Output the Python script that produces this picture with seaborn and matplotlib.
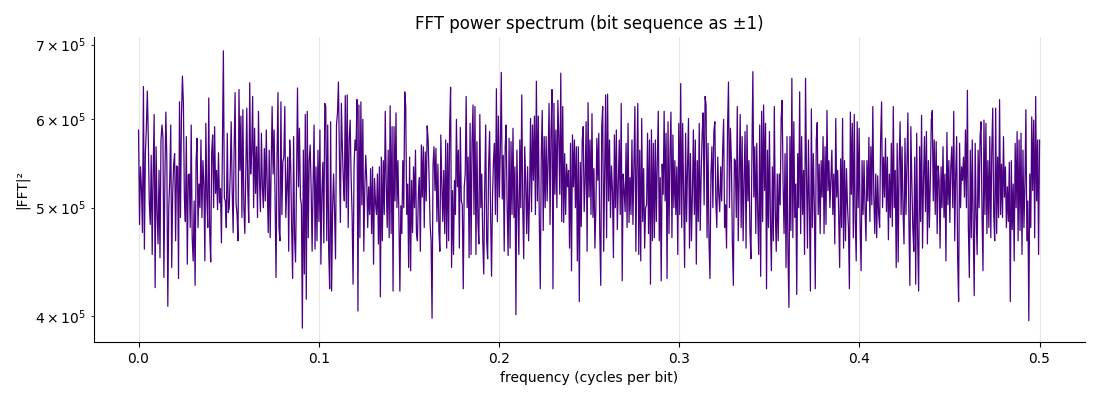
import numpy as np
import pandas as pd
import matplotlib
matplotlib.use("Agg")
import matplotlib.pyplot as plt
import seaborn as sns

# |FFT|^2 values in thousands, left to right in six bands
power_band1 = [587, 483, 544, 520, 475, 642, 459, 560, 589, 636, 577, 505, 483, 557, 454, 540, 606, 424, 567, 495,
               464, 540, 451, 575, 593, 579, 433, 530, 609, 553, 408, 500, 529, 593, 442, 515, 547, 559, 467, 545,
               544, 432, 622, 490, 604, 656, 620, 510, 486, 579, 445, 535, 536, 480, 593, 470, 448, 507, 426, 550,
               577, 480, 525, 500, 575, 490, 551, 525, 448, 595, 511, 480, 627, 474, 447, 560, 581, 500, 591, 515,
               540, 498, 560, 505, 520,
               465, 567, 691, 510, 507, 480, 583, 495, 500, 536, 597, 520, 475, 563, 634, 505, 493, 467, 638, 540,
               604, 490, 612, 500, 474, 536, 614, 520, 485, 647, 536, 560, 629, 500, 589, 515, 567, 490, 610, 530,
               496, 583, 522, 500, 565, 507, 587, 520, 475, 563, 470, 545, 616, 536, 587, 510, 433, 555, 634, 480,
               467, 622, 493, 550, 555, 616, 490, 520, 555, 457, 575]
power_band2 = [547, 480, 432, 579, 470, 447, 529, 640, 522, 589, 510,
               503, 390, 563, 436, 606, 414, 610, 470, 551, 569, 520,
               457, 525, 593, 459, 544, 467, 563, 486, 587, 445, 515,
               549, 465, 620, 616, 467, 593, 457, 423, 597, 421, 500,
               536, 496, 450, 593, 608, 648, 555, 485, 620, 567, 530,
               507, 630, 500, 631, 480, 575, 599, 532, 493, 427, 545,
               575, 563, 625, 404, 618, 470, 622, 503, 600, 457, 520,
               557, 529, 480, 522, 493, 542, 474, 544, 445, 531, 505,
               493, 536, 464, 544, 416, 555, 467, 551, 493, 610, 525,
               480, 563, 470, 617, 474, 591, 421, 591, 507, 608, 500,
               551, 491, 421, 502, 474, 551, 500, 635, 616, 493, 525,
               442, 555, 439, 529, 475, 544, 500, 563, 474, 467, 515,
               532, 457, 569, 511, 567, 480, 561, 507, 592, 575, 530,
               483, 467, 398, 546, 567, 518]
power_band3 = [565, 486, 547, 477, 457, 581, 525, 486, 540, 474, 575, 460, 571, 467, 587, 641, 442, 518, 454, 529,
               493, 600, 522, 563, 460, 590, 507, 503, 423, 522, 536, 629, 500, 555, 451, 595, 454, 573, 618, 493,
               616, 454, 573, 486, 464, 606, 500, 536, 467, 436, 522, 593, 467, 450, 545, 585, 496, 434, 511, 551,
               571, 493, 639, 486, 604, 511, 563, 661, 509, 557, 457, 567, 593, 500, 453, 577, 460, 573, 493, 589,
               490, 544, 401, 563, 503, 454, 575, 500, 631, 500, 450, 567, 529, 474, 544, 467, 514, 601, 496, 593,
               529, 604, 493, 649, 507, 604, 486, 423, 557, 611, 477, 579, 500, 579, 507, 551, 620, 483, 586, 638,
               423, 620, 514, 587, 500, 624, 579, 514, 660, 486, 616, 485, 559, 493, 547, 522, 540, 460, 571, 439,
               581, 522, 575, 500, 567, 448, 567, 412, 549, 481, 575]
power_band4 = [591, 496, 529, 597, 457, 621, 511, 575, 493, 607, 490, 542, 460, 500, 577, 529, 583, 474, 426, 591,
               616, 457, 540, 631, 470, 632, 507, 575, 490, 545, 518, 451, 581, 500, 587, 478, 522, 575, 493, 620,
               430, 536, 518, 496, 571, 480, 595, 485, 532, 493, 575, 483, 545, 616, 457, 544, 620, 454, 563, 448,
               601, 486, 542, 460, 500, 503, 583, 474, 575, 427, 587, 467, 571, 470, 575, 486, 551, 610, 467, 532,
               430, 547, 514, 610, 507, 583, 432, 597, 474, 559, 609, 470, 581, 500, 551, 493, 544, 454, 595, 493,
               646, 480, 595, 511, 442, 583, 486, 544, 601, 460, 559, 467, 514, 587, 493, 575, 445, 551, 486, 595,
               477, 536, 583, 608, 503, 629, 618, 470, 571, 467, 432, 536, 567, 500, 585, 597, 507, 480, 555, 514,
               496, 544, 507, 563, 600, 480, 503, 460, 587, 648, 500, 589, 551, 464, 426, 553]
power_band5 = [551, 490, 616, 467, 529, 606, 480, 579, 467, 529, 585, 460, 593, 507, 551, 477, 450, 555, 662, 511,
               567, 474, 571, 493, 454, 593, 434, 610, 486, 618, 518, 595, 423, 563, 480, 585, 486, 439, 544, 467,
               616, 495, 457, 536, 467, 536, 503, 601, 624, 525, 474, 559, 442, 579, 454, 407, 579, 477, 653, 470,
               597, 490, 525, 418, 559, 500, 635, 474, 579, 493, 540, 454, 653, 536, 460, 575, 500, 421, 613, 480,
               559, 503, 423, 575, 596, 493, 547, 474, 551, 511, 579, 474, 567, 483, 611, 518, 551, 500, 529, 563,
               493, 536, 464, 601, 511, 540, 493, 442, 553, 480, 601, 460, 551, 467, 542, 503, 480, 423, 609, 514,
               595, 470, 606, 486, 448, 597, 500, 589, 483, 439, 551, 493, 551, 500, 467, 551, 507, 578, 486, 567,
               503, 616, 514, 474, 536, 470, 534, 493, 480, 575, 622, 500, 555, 511]
power_band6 = [577, 496, 555, 468, 536, 490, 571, 481, 616, 500, 540, 442, 571, 447, 547, 597, 493, 567, 496, 464,
               577, 493, 549, 608, 486, 426, 591, 529, 480, 457, 555, 427, 583, 467, 421, 567, 486, 605, 460, 529,
               579, 496, 585, 464, 551, 480, 529, 599, 611, 507, 575, 493, 573, 474, 545, 529, 460, 544, 500, 567,
               490, 536, 448, 584, 503, 551, 485, 544, 567, 500, 610, 467, 536, 579, 451, 412, 571, 500, 544, 529,
               555, 511, 587, 500, 637, 480, 433, 563, 470, 575, 480, 417, 571, 493, 454, 563, 500, 579, 597, 493,
               439, 599, 493, 595, 474, 551, 480, 579, 470, 563, 614, 493, 467, 614, 474, 555, 490, 625, 493, 547,
               490, 579, 511, 544, 480, 522, 486, 549, 412, 551, 478, 525, 448, 571, 500, 585, 467, 575, 477, 583,
               454, 563, 480, 525, 612, 467, 507, 396, 536, 480, 603, 518, 599, 470, 629, 507, 575, 454, 575]

power = np.concatenate([power_band1, power_band2, power_band3,
                        power_band4, power_band5, power_band6]).astype(float) * 1000.0
freq = np.linspace(0.0, 0.5, len(power))
df = pd.DataFrame({"freq": freq, "power": power})

sns.set_style("ticks", rc={
    "axes.edgecolor": "black",
    "axes.labelcolor": "black",
    "text.color": "black",
    "xtick.color": "black",
    "ytick.color": "black",
    "xtick.major.size": 3.5,
    "ytick.major.size": 3.5,
    "ytick.minor.size": 2.0,
    "axes.linewidth": 0.8,
})
plt.rcParams["font.family"] = ["DejaVu Sans"]

fig, ax = plt.subplots(figsize=(11, 4), dpi=100)
fig.subplots_adjust(left=0.085, right=0.986, top=0.9075, bottom=0.145)

sns.lineplot(data=df, x="freq", y="power", color="#4B0082", linewidth=0.9,
             estimator=None, sort=False, ax=ax)
ax.set_yscale("log")
ax.grid(axis="x", color="#b0b0b0", alpha=0.3, linewidth=0.8)
ax.grid(axis="y", visible=False, which="both")
ax.set_title("FFT power spectrum (bit sequence as ±1)", fontsize=12)
ax.set_xlabel("frequency (cycles per bit)", fontsize=10)
ax.set_ylabel("|FFT|²", fontsize=10)
ax.tick_params(labelsize=10)
sns.despine(ax=ax)

fig.savefig("out.png", dpi=100)
